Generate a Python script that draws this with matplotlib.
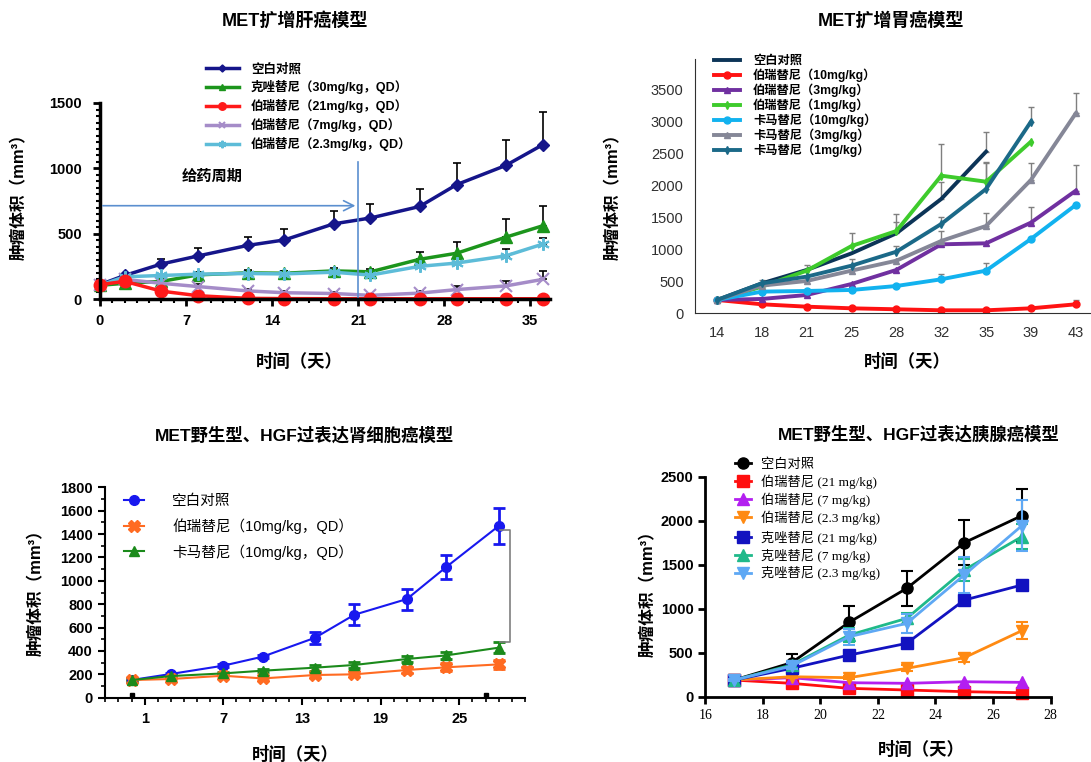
#!/usr/bin/env python3
"""
Tumour volume curves for four MET models (liver, gastric, renal, pancreatic).
"""
import numpy as np
import matplotlib.pyplot as plt
from matplotlib.ticker import MultipleLocator

# ---- panel 1: MET扩增肝癌模型 ----
days1 = [0, 2, 5, 8, 12, 15, 19, 22, 26, 29, 33, 36]
ctrl1 = [110, 180, 268, 330, 410, 452, 575, 620, 708, 875, 1022, 1180]
ctrl1_err = [0, 15, 40, 58, 64, 82, 102, 107, 132, 166, 197, 248]
crizo30 = [105, 120, 135, 185, 200, 197, 215, 208, 304, 350, 473, 560]
crizo30_err = [0, 10, 20, 25, 25, 20, 20, 20, 59, 90, 140, 155]
bozi21 = [110, 135, 60, 25, 5, 3, 2, 2, 2, 2, 2, 2]
bozi7 = [105, 150, 120, 95, 62, 48, 42, 28, 45, 72, 100, 150]
bozi7_err = [0, 0, 0, 20, 15, 15, 10, 10, 20, 30, 38, 67]
bozi23 = [105, 170, 180, 190, 195, 192, 205, 183, 250, 275, 330, 420]
bozi23_err = [0, 0, 0, 20, 20, 20, 20, 20, 30, 40, 50, 50]
labels1 = ['空白对照', '克唑替尼（30mg/kg，QD）', '伯瑞替尼（21mg/kg，QD）',
           '伯瑞替尼（7mg/kg，QD）', '伯瑞替尼（2.3mg/kg，QD）']
dosing_end = 21

# ---- panel 2: MET扩增胃癌模型 ----
days2 = ['14', '18', '21', '25', '28', '32', '35', '39', '43']
g_ctrl = [209, 470, 680, 940, 1254, 1792, 2534]
g_ctrl_err = [0, 50, 75, 0, 180, 260, 300]
g_b10 = [209, 141, 104, 78, 63, 47, 47, 78, 141]
g_b10_err = [0, 0, 0, 0, 0, 0, 0, 0, 65]
g_b3 = [209, 225, 287, 460, 680, 1081, 1097, 1421, 1922]
g_b3_err = [0, 0, 0, 0, 0, 0, 0, 250, 410]
g_b1 = [209, 418, 669, 1055, 1290, 2157, 2063, 2690]
g_b1_err = [0, 0, 0, 200, 260, 490, 300, 0]
g_k10 = [209, 340, 350, 366, 428, 533, 669, 1165, 1698]
g_k10_err = [0, 0, 0, 0, 0, 85, 125, 0, 0]
g_k3 = [209, 434, 507, 669, 825, 1134, 1369, 2090, 3134]
g_k3_err = [0, 0, 0, 0, 0, 150, 200, 260, 315]
g_k1 = [209, 470, 575, 747, 966, 1400, 1949, 3004]
g_k1_err = [0, 0, 0, 100, 95, 115, 430, 235]
labels2 = ['空白对照', '伯瑞替尼（10mg/kg）', '伯瑞替尼（3mg/kg）', '伯瑞替尼（1mg/kg）',
           '卡马替尼（10mg/kg）', '卡马替尼（3mg/kg）', '卡马替尼（1mg/kg）']

# ---- panel 3: 肾细胞癌模型 ----
days3 = [0, 3, 7, 10, 14, 17, 21, 24, 28]
r_ctrl = [151, 203, 274, 351, 513, 710, 844, 1118, 1469]
r_ctrl_err = [10, 12, 12, 15, 50, 88, 90, 105, 150]
r_bozi = [151, 160, 188, 165, 194, 200, 237, 260, 285]
r_bozi_err = [10, 10, 12, 12, 15, 15, 25, 35, 40]
r_kama = [151, 185, 208, 231, 257, 280, 331, 362, 428]
r_kama_err = [10, 10, 12, 12, 25, 25, 25, 30, 45]
labels3 = ['空白对照', '伯瑞替尼（10mg/kg，QD）', '卡马替尼（10mg/kg，QD）']
marks3 = [0, 27]

# ---- panel 4: 胰腺癌模型 ----
days4 = [17, 19, 21, 23, 25, 27]
p_ctrl = [189, 386, 845, 1231, 1750, 2057]
p_ctrl_err = [20, 95, 185, 197, 258, 303]
p_b21 = [189, 152, 95, 76, 57, 45]
p_b7 = [189, 216, 159, 152, 170, 163]
p_b23 = [189, 227, 216, 322, 443, 750]
p_b23_err = [10, 20, 20, 35, 45, 95]
p_c21 = [189, 322, 473, 606, 1098, 1269]
p_c7 = [189, 360, 700, 890, 1440, 1818]
p_c7_err = [10, 30, 80, 60, 120, 140]
p_c23 = [189, 348, 682, 833, 1383, 1943]
p_c23_err = [10, 30, 90, 110, 200, 290]
labels4 = ['空白对照', '伯瑞替尼 (21 mg/kg)', '伯瑞替尼 (7 mg/kg)', '伯瑞替尼 (2.3 mg/kg)',
           '克唑替尼 (21 mg/kg)', '克唑替尼 (7 mg/kg)', '克唑替尼 (2.3 mg/kg)']

CJK = ['Liberation Sans', 'Noto Sans CJK SC']
SERIF = ['Liberation Serif', 'Noto Sans CJK SC']
plt.rcParams['font.family'] = CJK
plt.rcParams['axes.unicode_minus'] = False

W, H = 1091, 762
fig = plt.figure(figsize=(W / 100, H / 100), dpi=100)


def box(left, right, bottom, top):
    return [left / W, 1 - bottom / H, (right - left) / W, (bottom - top) / H]


def ftext(x, y, s, **kw):
    fig.text(x / W, 1 - y / H, s, ha='center', va='center', **kw)


def up_err(ax, x, y, err, color, lw, cap):
    x, y, err = np.asarray(x, float), np.asarray(y, float), np.asarray(err, float)
    m = err > 0
    ax.errorbar(x[m], y[m], yerr=[np.zeros(m.sum()), err[m]], fmt='none',
                ecolor=color, elinewidth=lw, capsize=cap, capthick=lw, zorder=1)


def sym_err(ax, x, y, err, color, lw, cap):
    ax.errorbar(x, y, yerr=err, fmt='none', ecolor=color, elinewidth=lw,
                capsize=cap, capthick=lw, zorder=2)


# ================= panel 1 =================
ax1 = fig.add_axes(box(100, 550, 299, 103))
cols1 = ['#15158a', '#1c951c', '#ff1a1a', '#a58cc8', '#5dbcd8']
for y, e in [(ctrl1, ctrl1_err), (crizo30, crizo30_err), (bozi7, bozi7_err), (bozi23, bozi23_err)]:
    up_err(ax1, days1, y, e, 'black', 1.2, 3)
l_c = ax1.plot(days1, ctrl1, color=cols1[0], lw=2.5, marker='D', ms=6, label=labels1[0], clip_on=False)
l_g = ax1.plot(days1, crizo30, color=cols1[1], lw=2.5, marker='^', ms=8, label=labels1[1], clip_on=False)
l_p = ax1.plot(days1, bozi7, color=cols1[3], lw=2.5, marker='x', ms=8, mew=1.5, label=labels1[3], clip_on=False)
l_b = ax1.plot(days1, bozi23, color=cols1[4], lw=2.5, marker=(6, 2, 0), ms=9, mew=1.5, label=labels1[4], clip_on=False)
l_r = ax1.plot(days1, bozi21, color=cols1[2], lw=2.5, marker='o', ms=9, label=labels1[2], clip_on=False)
ax1.plot([dosing_end, dosing_end], [0, 1046], color='#5b8fcf', lw=1.2, clip_on=False)
ax1.annotate('', xy=(dosing_end, 714), xytext=(0, 714),
             arrowprops=dict(arrowstyle='->', color='#5b8fcf', lw=1.2, mutation_scale=18))
ax1.text(9.1, 936, '给药周期', ha='center', va='center', fontsize=11, fontweight='bold')
ax1.set_xlim(0, 36.6)
ax1.set_ylim(0, 1500)
ax1.set_xticks([0, 7, 14, 21, 28, 35])
ax1.set_yticks([0, 500, 1000, 1500])
ax1.xaxis.set_minor_locator(MultipleLocator(1))
ax1.yaxis.set_minor_locator(MultipleLocator(50))
for s in ['top', 'right']:
    ax1.spines[s].set_visible(False)
for s in ['left', 'bottom']:
    ax1.spines[s].set_linewidth(2.5)
ax1.tick_params(which='major', length=5, width=2, labelsize=10.5, pad=8)
ax1.tick_params(axis='x', which='major', pad=6)
ax1.tick_params(which='minor', length=3, width=1.5)
for t in ax1.get_xticklabels() + ax1.get_yticklabels():
    t.set_fontweight('bold')
h1 = [l_c[0], l_g[0], l_r[0], l_p[0], l_b[0]]
ax1.legend(h1, [h.get_label() for h in h1], loc='upper left',
           bbox_to_anchor=(206 / W, 1 - 63 / H), bbox_transform=fig.transFigure,
           frameon=False, handlelength=2.6, handletextpad=1.0,
           labelspacing=0.4, borderpad=0, borderaxespad=0, markerscale=0.6,
           prop={'weight': 'bold', 'size': 9})
ftext(295, 21, 'MET扩增肝癌模型', fontsize=13, fontweight='bold')
ftext(299, 361, '时间（天）', fontsize=12.5, fontweight='bold')
ftext(19, 193, '肿瘤体积（mm³）', fontsize=12, fontweight='bold', rotation=90)

# ================= panel 2 =================
ax2 = fig.add_axes(box(694.7, 1091, 313.3, 59.3))
x2 = np.arange(len(days2))
series2 = [
    (g_ctrl, g_ctrl_err, '#0c3457', None, 0),
    (g_b10, g_b10_err, '#ff1212', 'o', 5),
    (g_b3, g_b3_err, '#7030a0', '^', 5),
    (g_b1, g_b1_err, '#3ecb2c', 'd', 4),
    (g_k10, g_k10_err, '#12b2ef', 'o', 5),
    (g_k3, g_k3_err, '#858797', '^', 5),
    (g_k1, g_k1_err, '#1b6988', 'd', 4),
]
h2 = []
for (y, e, c, mk, ms), lab in zip(series2, labels2):
    xx = x2[:len(y)]
    up_err(ax2, xx, y, e, '#7f7f7f', 1.0, 2.5)
    ln, = ax2.plot(xx, y, color=c, lw=2.8, marker=mk, ms=ms, label=lab)
    h2.append(ln)
ax2.set_xlim(-0.5, 8.34)
ax2.set_ylim(0, 3981)
ax2.set_xticks(x2)
ax2.set_xticklabels(days2)
ax2.set_yticks(np.arange(0, 3501, 500))
for s in ['top', 'right']:
    ax2.spines[s].set_visible(False)
ax2.spines['left'].set_color('#303030')
ax2.spines['bottom'].set_color('#303030')
ax2.tick_params(length=0, labelsize=10.5, labelcolor='#303030', pad=8)
ax2.tick_params(axis='x', pad=9)
ax2.legend(h2, labels2, loc='upper left', bbox_to_anchor=(714 / W, 1 - 55 / H),
           bbox_transform=fig.transFigure, frameon=False, handlelength=2.1,
           handletextpad=1.1, labelspacing=0.12, borderpad=0, borderaxespad=0,
           prop={'weight': 'bold', 'size': 8.8})
ftext(891, 21, 'MET扩增胃癌模型', fontsize=13, fontweight='bold')
ftext(907, 361, '时间（天）', fontsize=12.5, fontweight='bold')
ftext(613, 193, '肿瘤体积（mm³）', fontsize=12, fontweight='bold', rotation=90)

# ================= panel 3 =================
ax3 = fig.add_axes(box(105.3, 524.9, 697.7, 487.3))
cols3 = ['#1818ef', '#ff6b22', '#1b8a1b']
sym_err(ax3, days3, r_ctrl, r_ctrl_err, cols3[0], 2, 4)
sym_err(ax3, days3, r_bozi, r_bozi_err, cols3[1], 2, 4)
sym_err(ax3, days3, r_kama, r_kama_err, cols3[2], 2, 4)
m_c, = ax3.plot(days3, r_ctrl, color=cols3[0], lw=1.5, marker='o', ms=7, label=labels3[0])
m_b, = ax3.plot(days3, r_bozi, color=cols3[1], lw=1.5, marker='X', ms=8, label=labels3[1])
m_k, = ax3.plot(days3, r_kama, color=cols3[2], lw=1.5, marker='^', ms=7, label=labels3[2])
# significance bracket between control and 卡马替尼 at the last day
bx, btop, bbot = days3[-1] + 0.85, r_ctrl[-1] - 35, r_kama[-1] + r_kama_err[-1] + 5
ax3.plot([days3[-1] + 0.1, bx, bx, days3[-1] + 0.1], [btop, btop, bbot, bbot],
         color='#7f7f7f', lw=1.2)
ax3.plot(marks3, [22, 22], ls='none', marker='s', ms=3.5, color='black', clip_on=False)
ax3.set_xlim(-2, 30)
ax3.set_ylim(0, 1800)
ax3.set_xticks([1, 7, 13, 19, 25])
ax3.set_yticks(np.arange(0, 1801, 200))
ax3.xaxis.set_minor_locator(MultipleLocator(1))
ax3.yaxis.set_minor_locator(MultipleLocator(100))
for s in ['top', 'right']:
    ax3.spines[s].set_visible(False)
for s in ['left', 'bottom']:
    ax3.spines[s].set_linewidth(1.5)
ax3.tick_params(which='major', length=5, width=1.5, labelsize=10.5, pad=4)
ax3.tick_params(axis='x', which='major', pad=5)
ax3.tick_params(which='minor', length=3, width=1.2)
for t in ax3.get_xticklabels() + ax3.get_yticklabels():
    t.set_fontweight('bold')
ax3.legend([m_c, m_b, m_k], labels3, loc='upper left', bbox_to_anchor=(124 / W, 1 - 494 / H),
           bbox_transform=fig.transFigure, frameon=False, handlelength=1.4,
           handletextpad=1.9, labelspacing=0.7, borderpad=0, borderaxespad=0,
           prop={'size': 10.5})
ftext(304, 435, 'MET野生型、HGF过表达肾细胞癌模型', fontsize=12.5, fontweight='bold')
ftext(295, 754, '时间（天）', fontsize=12.5, fontweight='bold')
ftext(36, 589, '肿瘤体积（mm³）', fontsize=12, fontweight='bold', rotation=90)

# ================= panel 4 =================
ax4 = fig.add_axes(box(705.2, 1050.6, 696.7, 476.7))
series4 = [
    (p_ctrl, p_ctrl_err, 'black', 'o', 8),
    (p_b21, None, '#ff0e0e', 's', 8),
    (p_b7, None, '#b31ff0', '^', 8),
    (p_b23, p_b23_err, '#ff8a12', 'v', 8),
    (p_c21, None, '#1212c0', 's', 8),
    (p_c7, p_c7_err, '#1fb98a', '^', 8),
    (p_c23, p_c23_err, '#5ea8f4', 'v', 8),
]
h4 = []
for (y, e, c, mk, ms), lab in zip(series4, labels4):
    if e is not None:
        sym_err(ax4, days4, y, e, c, 1.5, 4)
    ln, = ax4.plot(days4, y, color=c, lw=2, marker=mk, ms=ms, label=lab, clip_on=False)
    h4.append(ln)
ax4.set_xlim(16, 28)
ax4.set_ylim(0, 2500)
ax4.set_xticks(np.arange(16, 29, 2))
ax4.set_yticks(np.arange(0, 2501, 500))
for s in ['top', 'right']:
    ax4.spines[s].set_visible(False)
for s in ['left', 'bottom']:
    ax4.spines[s].set_linewidth(2)
ax4.tick_params(length=5, width=2, labelsize=10.5)
for t in ax4.get_yticklabels():
    t.set_fontweight('bold')
for t in ax4.get_xticklabels():
    t.set_family(SERIF)
    t.set_fontsize(10)
kw4 = dict(bbox_transform=fig.transFigure, frameon=False, handlelength=1.2,
           handletextpad=0.8, labelspacing=0.28, borderpad=0, borderaxespad=0,
           prop={'family': SERIF, 'size': 9.5})
leg4a = ax4.legend(h4[:4], labels4[:4], loc='upper left', bbox_to_anchor=(735 / W, 1 - 458 / H), **kw4)
ax4.add_artist(leg4a)
ax4.legend(h4[4:], labels4[4:], loc='upper left', bbox_to_anchor=(735 / W, 1 - 531 / H), **kw4)
ftext(919, 434, 'MET野生型、HGF过表达胰腺癌模型', fontsize=12.5, fontweight='bold')
ftext(921, 749, '时间（天）', fontsize=12.5, fontweight='bold')
ftext(648, 590, '肿瘤体积（mm³）', fontsize=12, fontweight='bold', rotation=90)

fig.savefig('out.png', dpi=100)
